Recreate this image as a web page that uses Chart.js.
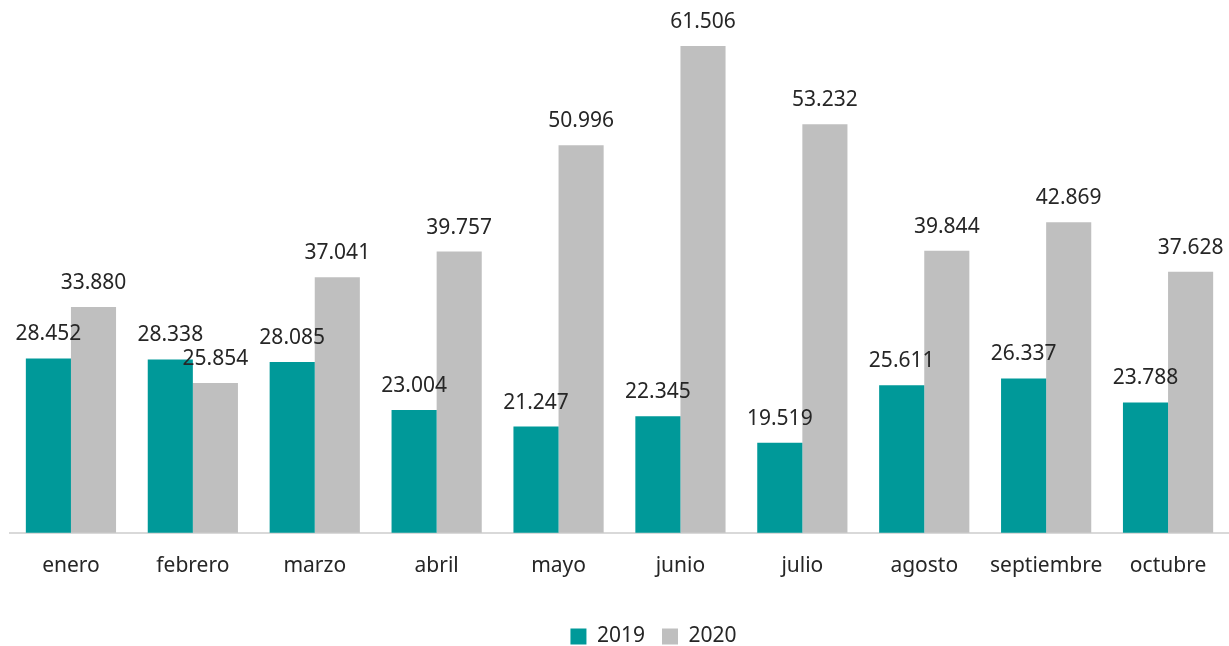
<!DOCTYPE html>
<html>
<head>
<meta charset="utf-8">
<script src="https://cdn.jsdelivr.net/npm/chart.js@4"></script>
<style>
html,body{margin:0;padding:0;background:#fff;}
#wrap{width:1229px;height:646px;position:relative;}
</style>
</head>
<body>
<div id="wrap"><canvas id="c"></canvas></div>
<script>
const categories = ['enero','febrero','marzo','abril','mayo','junio','julio','agosto','septiembre','octubre'];
const values2019 = [28452, 28338, 28085, 23004, 21247, 22345, 19519, 25611, 26337, 23788];
const values2020 = [33880, 25854, 37041, 39757, 50996, 61506, 53232, 39844, 42869, 37628];
const seriesNames = ['2019', '2020'];

const FONT = '"Noto Sans", "Open Sans", sans-serif';
const fmt = v => v.toLocaleString('de-DE');

const labelPlugin = {
  id: 'barLabels',
  afterLayout(chart) {
    const lg = chart.legend;
    if (lg) {
      lg.left += 34; lg.right += 34;
      lg.top += 9; lg.bottom += 9;
    }
  },
  afterDatasetsDraw(chart) {
    const ctx = chart.ctx;
    ctx.save();
    ctx.font = '21px ' + FONT;
    ctx.fillStyle = '#262626';
    ctx.textAlign = 'center';
    ctx.textBaseline = 'alphabetic';
    chart.data.datasets.forEach((ds, i) => {
      const meta = chart.getDatasetMeta(i);
      meta.data.forEach((bar, j) => {
        ctx.fillText(fmt(ds.data[j]), bar.x, bar.y - 18);
      });
    });
    ctx.restore();
  }
};

new Chart(document.getElementById('c'), {
  type: 'bar',
  data: {
    labels: categories,
    datasets: [
      { label: seriesNames[0], data: values2019, backgroundColor: '#009999' },
      { label: seriesNames[1], data: values2020, backgroundColor: '#BFBFBF' }
    ]
  },
  options: {
    responsive: true,
    maintainAspectRatio: false,
    animation: false,
    layout: { padding: { left: 10, right: 0, top: 13, bottom: -2 } },
    categoryPercentage: 0.74,
    barPercentage: 1.0,
    plugins: {
      legend: {
        position: 'bottom',
        labels: {
          boxWidth: 16, boxHeight: 16, padding: 17,
          color: '#262626',
          font: { family: FONT, size: 21 }
        }
      },
      tooltip: { enabled: false }
    },
    scales: {
      x: {
        grid: { display: false, drawTicks: false },
        border: { color: '#D9D9D9', width: 2 },
        ticks: { color: '#262626', font: { family: FONT, size: 21 }, padding: 21 }
      },
      y: {
        display: false,
        min: 10000,
        max: 65000
      }
    }
  },
  plugins: [labelPlugin]
});
</script>
</body>
</html>
